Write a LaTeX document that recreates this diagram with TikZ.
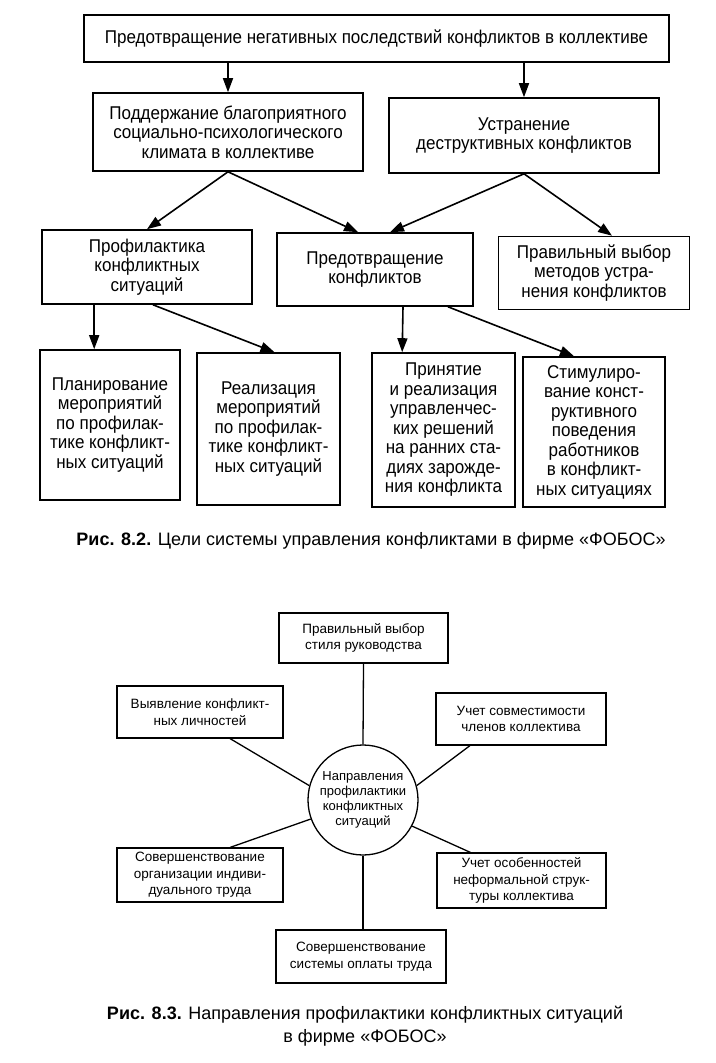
\documentclass[tikz,border=0pt]{standalone}
\usepackage{fontspec}
\setmainfont{Liberation Sans}
\newfontfamily\narrowf[FakeStretch=0.92]{Liberation Sans}
\usetikzlibrary{arrows.meta,calc}
\begin{document}
\begin{tikzpicture}[x=1pt,y=-1pt,
  box/.style={draw, line width=1.6pt, inner sep=2pt, align=center,
    font=\narrowf\fontsize{18.5}{19.5}\selectfont},
  sbox/.style={draw, line width=1.1pt, inner sep=2pt, align=center,
    font=\fontsize{13.5}{16.5}\selectfont},
  arr/.style={line width=1.6pt, -{Triangle[length=14pt,width=10pt]}},
  ln/.style={line width=1.3pt},
  captext/.style={align=center, font=\fontsize{18}{23}\selectfont}]
\useasboundingbox (0,0) rectangle (715,1063);
\fill[white] (0,0) rectangle (715,1063);

% ---- Fig 8.2 ----
\node[box, minimum width=585, minimum height=47] (top) at (376.5,38.5)
  {Предотвращение негативных последствий конфликтов в коллективе};
\node[box, minimum width=270, minimum height=78] (sup) at (228,132)
  {Поддержание благоприятного\\социально-психологического\\климата в коллективе};
\node[box, minimum width=270, minimum height=75] (ustr) at (524,135.5)
  {Устранение\\деструктивных конфликтов};
\node[box, minimum width=210, minimum height=74] (prof) at (147,267)
  {Профилактика\\конфликтных\\ситуаций};
\node[box, minimum width=196, minimum height=73] (pred) at (375,269.5)
  {Предотвращение\\конфликтов};
\node[box, minimum width=191, minimum height=73] (pravm) at (594,273)
  {Правильный выбор\\методов устра-\\нения конфликтов};
\node[box, minimum width=140, minimum height=150] (plan) at (110,425)
  {Планирование\\мероприятий\\по профилак-\\тике конфликт-\\ных ситуаций};
\node[box, minimum width=143, minimum height=152] (real) at (268.5,429)
  {Реализация\\мероприятий\\по профилак-\\тике конфликт-\\ных ситуаций};
\node[box, minimum width=143, minimum height=154] (prin) at (443.5,430)
  {Принятие\\и реализация\\управленчес-\\ких решений\\на ранних ста-\\диях зарожде-\\ния конфликта};
\node[box, minimum width=142, minimum height=150] (stim) at (594,432)
  {Стимулиро-\\вание конст-\\руктивного\\поведения\\работников\\в конфликт-\\ных ситуациях};

\draw[arr] (top.south -| sup.north) -- (sup.north);
\draw[arr] (top.south -| ustr.north) -- (ustr.north);
\draw[arr] (sup.south) -- (prof.north);
\draw[arr] (sup.south) -- ($(pred.north)+(-17,0)$);
\draw[arr] (ustr.south) -- ($(pred.north)+(15,0)$);
\draw[arr] (ustr.south) -- ($(pravm.north)+(18,0)$);
\draw[arr] ($(prof.south west)+(53,0)$) -- ($(plan.north west)+(55,0)$);
\draw[arr] ($(prof.south)+(6,0)$) -- ($(real.north)+(6,0)$);
\draw[arr] ($(pred.south)+(28,0)$) -- ($(prin.north west)+(31,0)$);
\draw[arr] ($(pred.south)+(73,0)$) -- ($(stim.north)+(-20,0)$);

\node[captext] (cap1) at (371,541)
  {\textbf{Рис. 8.2.} Цели системы управления конфликтами в фирме «ФОБОС»};

% ---- Fig 8.3 ----
\node[draw, circle, line width=1.3pt, minimum size=110, inner sep=0pt, align=center,
  font=\fontsize{13}{15}\selectfont] (circ) at (363,800)
  {Направления\\профилактики\\конфликтных\\ситуаций};
\node[sbox, minimum width=169, minimum height=50] (stil) at (363.5,638)
  {Правильный выбор\\стиля руководства};
\node[sbox, minimum width=166, minimum height=52] (vyav) at (200,712)
  {Выявление конфликт-\\ных личностей};
\node[sbox, minimum width=170, minimum height=52] (uchs) at (521,719)
  {Учет совместимости\\членов коллектива};
\node[sbox, minimum width=166, minimum height=54] (sorg) at (200,875)
  {Совершенствование\\организации индиви-\\дуального труда};
\node[sbox, minimum width=169, minimum height=55] (uosob) at (521.5,880.5)
  {Учет особенностей\\неформальной струк-\\туры коллектива};
\node[sbox, minimum width=170, minimum height=53] (soplat) at (361,956.5)
  {Совершенствование\\системы оплаты труда};

\draw[ln] (stil.south) -- (circ.north);
\draw[ln] ($(vyav.south)+(30,0)$) -- (circ.165);
\draw[ln] ($(uchs.south)+(-51,0)$) -- (circ.15);
\draw[ln] ($(sorg.north)+(30,0)$) -- (circ.200);
\draw[ln] ($(uosob.north)+(-51,0)$) -- (circ.332);
\draw[ln] (circ.south) -- (circ.south |- soplat.north);

\node[captext] (cap2) at (365,1026)
  {\textbf{Рис. 8.3.} Направления профилактики конфликтных ситуаций\\в фирме «ФОБОС»};
\end{tikzpicture}
\end{document}
